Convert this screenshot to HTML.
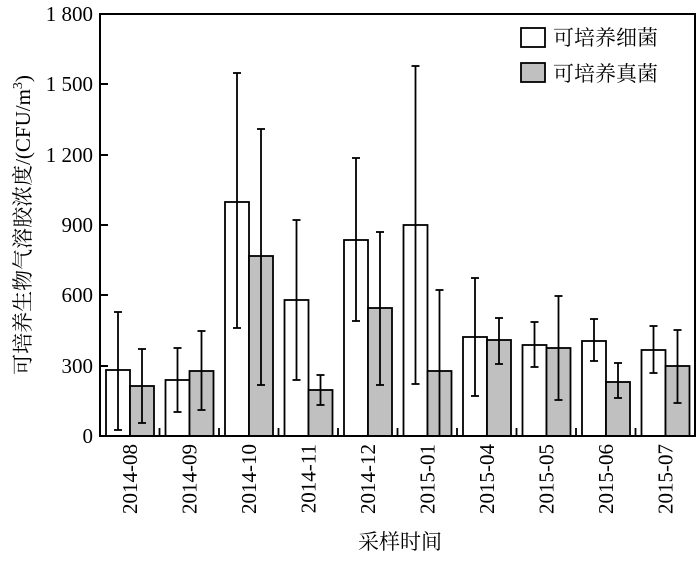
<!DOCTYPE html><html><head><meta charset="utf-8"><style>body{margin:0;background:#fff}svg text{font-family:"Liberation Serif","Noto Serif CJK SC",serif}</style></head><body>
<svg width="700" height="559" xmlns="http://www.w3.org/2000/svg">
<g id="bars" stroke="#000" stroke-width="1.8"></g>
<rect x="100" y="14" width="595" height="422" fill="none" stroke="#000" stroke-width="2"/>
<g font-size="21" text-anchor="end">
<text x="93" y="21">1 800</text><text x="93" y="91">1 500</text><text x="93" y="162">1 200</text>
<text x="93" y="232">900</text><text x="93" y="302">600</text><text x="93" y="373">300</text><text x="93" y="443">0</text>
</g>
<g stroke="#000" stroke-width="2">
<line x1="100" y1="84" x2="108" y2="84"/><line x1="100" y1="155" x2="108" y2="155"/><line x1="100" y1="225" x2="108" y2="225"/><line x1="100" y1="295" x2="108" y2="295"/><line x1="100" y1="366" x2="108" y2="366"/>
</g>
<g font-size="21" id="xl"></g>
<text transform="translate(30,225) rotate(-90)" font-size="21" text-anchor="middle">可培养生物气溶胶浓度/(CFU/m<tspan dy="-8" font-size="14">3</tspan><tspan dy="8">)</tspan></text>
<text x="400" y="549" font-size="21" text-anchor="middle">采样时间</text>
<rect x="521" y="28" width="24" height="19" fill="#fff" stroke="#000" stroke-width="1.8"/>
<rect x="521" y="63" width="24" height="19" fill="#c0c0c0" stroke="#000" stroke-width="1.8"/>
<text x="553" y="45" font-size="21">可培养细菌</text>
<text x="553" y="81" font-size="21">可培养真菌</text>
</svg>
<script>
const d=[["2014-08",370,430,312,386,423,349],["2014-09",380,412,348,371,410,331],["2014-10",202,328,73,256,385,129],["2014-11",300,380,220,390,405,375],["2014-12",240,321,158,308,385,232],["2015-01",225,384,66,371,436,290],["2015-04",337,396,278,340,364,318],["2015-05",345,367,322,348,400,296],["2015-06",341,361,319,382,398,363],["2015-07",350,373,326,366,403,330]];
const g=document.getElementById('bars'),xl=document.getElementById('xl');let s='',t='';
d.forEach((r,i)=>{const b=100+59.5*i,w=b+6,gx=b+30;
s+=`<rect x="${w}" y="${r[1]}" width="24" height="${436-r[1]}" fill="#fff"/><rect x="${gx}" y="${r[4]}" width="24" height="${436-r[4]}" fill="#c0c0c0"/>`;
[[w+12,r[2],r[3]],[gx+12,r[5],r[6]]].forEach(e=>{s+=`<line x1="${e[0]}" y1="${e[1]}" x2="${e[0]}" y2="${e[2]}"/><line x1="${e[0]-4}" y1="${e[2]}" x2="${e[0]+4}" y2="${e[2]}"/>`;if(e[1]<435)s+=`<line x1="${e[0]-4}" y1="${e[1]}" x2="${e[0]+4}" y2="${e[1]}"/>`;});
if(i>0)s+=`<line x1="${b}" y1="436" x2="${b}" y2="428"/>`;
t+=`<text transform="translate(${b+37},444) rotate(-90)" text-anchor="end">${r[0]}</text>`;});
g.innerHTML=s;xl.innerHTML=t;
</script>
</body></html>
